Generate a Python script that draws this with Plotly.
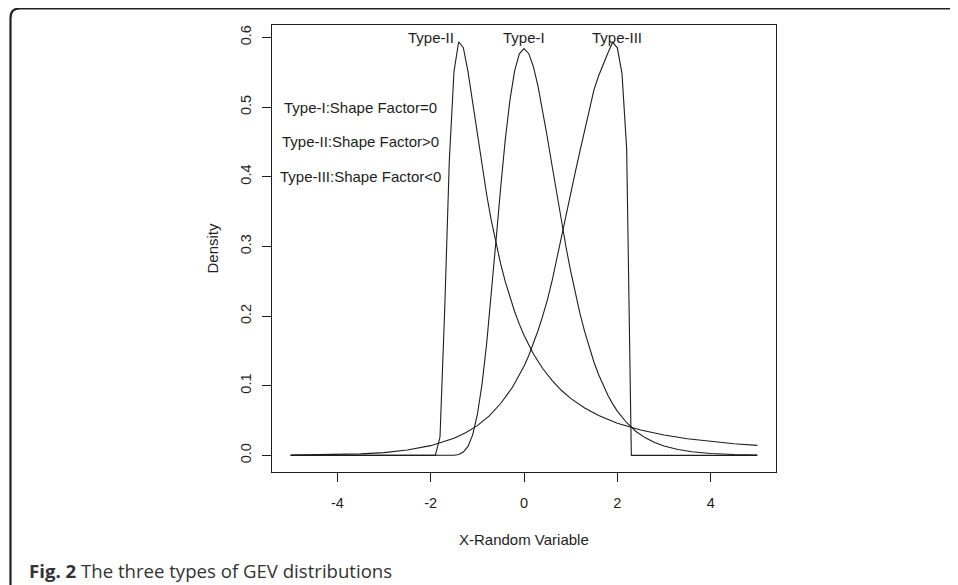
import plotly.graph_objects as go

# ---- data ----
x_type1 = [-5.0, -2.0, -1.6, -1.5, -1.4, -1.3, -1.2, -1.1, -1.0, -0.9, -0.8, -0.7, -0.6, -0.5,
           -0.4, -0.3, -0.2, -0.1, 0.0, 0.1, 0.2, 0.3, 0.4, 0.5, 0.6, 0.7, 0.8, 0.9, 1.0, 1.1,
           1.2, 1.3, 1.4, 1.5, 1.6, 1.7, 1.8, 1.9, 2.0, 2.2, 2.4, 2.6, 2.8, 3.0, 3.3, 3.6, 4.0,
           4.5, 5.0]
y_type1 = [0.0, 0.0, 0.0001, 0.0003, 0.0014, 0.0048, 0.0129, 0.0295, 0.0584, 0.102, 0.1606,
           0.2313, 0.3083, 0.3845, 0.454, 0.5106, 0.5522, 0.5764, 0.5839, 0.577, 0.5583, 0.53,
           0.4951, 0.4567, 0.4165, 0.376, 0.3367, 0.2992, 0.2645, 0.2325, 0.2035, 0.1776,
           0.1543, 0.1338, 0.1157, 0.0999, 0.0861, 0.074, 0.0636, 0.0469, 0.0344, 0.0252,
           0.0184, 0.0135, 0.0084, 0.0052, 0.0028, 0.0013, 0.0006]

x_type2 = [-5.0, -1.9, -1.8, -1.7, -1.6, -1.5, -1.4, -1.3, -1.2, -1.1, -1.0, -0.9, -0.8, -0.7,
           -0.6, -0.5, -0.4, -0.3, -0.2, -0.1, 0.0, 0.2, 0.4, 0.6, 0.8, 1.0, 1.3, 1.6, 2.0, 2.5,
           3.0, 3.5, 4.0, 4.5, 5.0]
y_type2 = [0.0, 0.0, 0.0264, 0.2077, 0.4235, 0.5513, 0.5938, 0.5852, 0.5508, 0.5064, 0.4598,
           0.4152, 0.3741, 0.337, 0.304, 0.2748, 0.249, 0.2263, 0.2062, 0.1884, 0.1726, 0.146,
           0.1248, 0.1076, 0.0935, 0.0819, 0.068, 0.0572, 0.0463, 0.0364, 0.0293, 0.024,
           0.0199, 0.0168, 0.0144]

x_type3 = [-5.0, -4.5, -4.0, -3.5, -3.0, -2.5, -2.0, -1.75, -1.5, -1.25, -1.0, -0.75, -0.5,
           -0.25, 0.0, 0.1, 0.2, 0.3, 0.4, 0.5, 0.6, 0.7, 0.8, 0.9, 1.0, 1.1, 1.2, 1.3, 1.4, 1.5,
           1.6, 1.7, 1.8, 1.9, 2.0, 2.1, 2.2, 2.3, 5.0]
y_type3 = [0.0004, 0.0007, 0.0012, 0.0022, 0.004, 0.0078, 0.014, 0.0188, 0.0245, 0.0325,
           0.0428, 0.0565, 0.0745, 0.0975, 0.128, 0.143, 0.16, 0.179, 0.2, 0.223, 0.25, 0.282,
           0.316, 0.347, 0.377, 0.407, 0.437, 0.468, 0.498, 0.525, 0.545, 0.562, 0.578, 0.593,
           0.585, 0.548, 0.44, 0.0, 0.0]

x_tick_vals = [-4, -2, 0, 2, 4]
x_tick_text = ["-4", "-2", "0", "2", "4"]
y_tick_vals = [0.0, 0.1, 0.2, 0.3, 0.4, 0.5, 0.6]
y_tick_text = ["0.0", "0.1", "0.2", "0.3", "0.4", "0.5", "0.6"]

peak_labels = ["Type-II", "Type-I", "Type-III"]
note_labels = ["Type-I:Shape Factor=0", "Type-II:Shape Factor>0", "Type-III:Shape Factor<0"]

# ---- layout geometry (pixels; page body has an 8px margin) ----
OFF = 8
W, H = 958 - OFF, 585 - OFF
L, R, T, B = 272 - OFF, 776 - OFF, 25 - OFF, 472 - OFF


def px(p):
    return (p - OFF - L) / (R - L)


def py(p):
    return (B - (p - OFF)) / (B - T)


INK = "#1e1e1e"
FONT = "Liberation Sans, Arial, sans-serif"

fig = go.Figure()
for xs, ys in [(x_type1, y_type1), (x_type2, y_type2), (x_type3, y_type3)]:
    fig.add_trace(go.Scatter(x=xs, y=ys, mode="lines",
                             line=dict(color=INK, width=1.1),
                             showlegend=False, hoverinfo="skip"))

annotations = []
for txt, xv in zip(peak_labels, [-2.0, 0.0, 2.0]):
    annotations.append(dict(x=xv, y=0.6, xref="x", yref="y", text=txt, showarrow=False,
                            xanchor="center", yanchor="middle",
                            font=dict(family=FONT, size=15, color=INK)))
for txt, yv in zip(note_labels, [0.5, 0.45, 0.4]):
    annotations.append(dict(x=-3.5, y=yv, xref="x", yref="y", text=txt, showarrow=False,
                            xanchor="center", yanchor="middle",
                            font=dict(family=FONT, size=15, color=INK)))
annotations.append(dict(x=px(524), y=py(539), xref="paper", yref="paper",
                        text="X-Random Variable", showarrow=False,
                        xanchor="center", yanchor="middle",
                        font=dict(family=FONT, size=15, color=INK)))
annotations.append(dict(x=px(212), y=py(248.5), xref="paper", yref="paper",
                        text="Density", showarrow=False, textangle=-90,
                        xanchor="center", yanchor="middle",
                        font=dict(family=FONT, size=15, color=INK)))
annotations.append(dict(x=px(27), y=py(570), xref="paper", yref="paper",
                        text="<b>Fig. 2</b> The three types of GEV distributions",
                        showarrow=False, xanchor="left", yanchor="middle",
                        font=dict(family="Open Sans, sans-serif", size=18.6, color="#333333")))

border_path = (f"M {px(10.5)},{py(640)} L {px(10.5)},{py(18)} "
               f"Q {px(10.5)},{py(8.5)} {px(20)},{py(8.5)} L {px(1000)},{py(8.5)}")

fig.update_layout(
    width=W, height=H,
    margin=dict(l=L, r=W - R, t=T, b=H - B, pad=0),
    paper_bgcolor="white", plot_bgcolor="white",
    annotations=annotations,
    shapes=[dict(type="path", path=border_path, xref="paper", yref="paper",
                 line=dict(color="#222222", width=2.2))],
    xaxis=dict(range=[-5.4, 5.4], showgrid=False, zeroline=False,
               showline=True, mirror=True, linecolor=INK, linewidth=1,
               ticks="outside", ticklen=9, tickwidth=1, tickcolor=INK,
               tickvals=x_tick_vals, ticktext=x_tick_text, ticklabelstandoff=9,
               tickfont=dict(family=FONT, size=14.5, color=INK)),
    yaxis=dict(range=[-0.0238, 0.6178], showgrid=False, zeroline=False,
               showline=True, mirror=True, linecolor=INK, linewidth=1,
               ticks="outside", ticklen=9, tickwidth=1, tickcolor=INK,
               tickvals=y_tick_vals, ticktext=y_tick_text, tickangle=-90,
               ticklabelstandoff=5,
               tickfont=dict(family=FONT, size=14.5, color=INK)),
)

fig.write_html("out.html")
